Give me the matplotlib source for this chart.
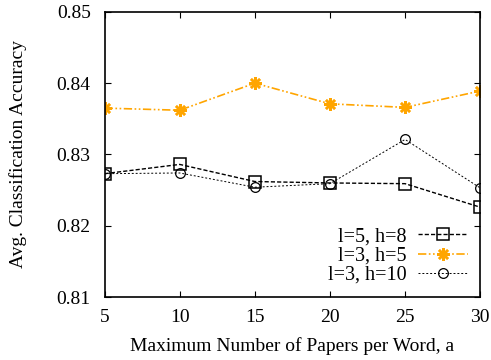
import matplotlib.pyplot as plt

plt.rcParams['font.family'] = ['Liberation Serif', 'DejaVu Serif']
plt.rcParams['font.size'] = 14

# data
papers = [5, 10, 15, 20, 25, 30]
acc_l5_h8 = [0.8273, 0.8286, 0.8262, 0.8260, 0.8259, 0.8226]
acc_l3_h5 = [0.8365, 0.8362, 0.8400, 0.8371, 0.8366, 0.8389]
acc_l3_h10 = [0.8273, 0.8274, 0.8254, 0.8259, 0.8321, 0.8253]
labels = ['l=5, h=8', 'l=3, h=5', 'l=3, h=10']

fig = plt.figure(figsize=(4.91, 3.6), dpi=100)
ax = fig.add_axes([0.213, 0.175, 0.765, 0.792])

ax.plot(papers, acc_l5_h8, color='black', linestyle=(0, (3, 1.5)), linewidth=1,
        marker='s', markersize=8, markerfacecolor='none', markeredgewidth=1.1, label=labels[0])
ax.plot(papers, acc_l3_h5, color='orange', linestyle=(0, (5, 1.5, 1, 1.5, 1, 1.5)), linewidth=1.2,
        marker=(8, 2, 0), markersize=9, markeredgewidth=1.8, label=labels[1])
ax.plot(papers, acc_l3_h10, color='black', linestyle=(0, (2, 2)), linewidth=0.7,
        marker='o', markersize=7, markerfacecolor='none', markeredgewidth=0.9, label=labels[2])

ax.set_xlim(5, 30)
ax.set_ylim(0.81, 0.85)
ax.set_xticks(papers)
ax.set_yticks([0.81, 0.82, 0.83, 0.84, 0.85])
ax.tick_params(direction='in', top=True, right=True, length=4, labelsize=14)
ax.tick_params(axis='x', pad=9)
ax.tick_params(axis='y', pad=10)
for s in ax.spines.values():
    s.set_linewidth(1.2)

ax.set_xlabel('Maximum Number of Papers per Word, a', labelpad=7.5)
ax.set_ylabel('Avg. Classification Accuracy', labelpad=21)

ax.legend(loc='lower right', markerfirst=False, frameon=False, fontsize=14.5,
          handlelength=2.5, handletextpad=0.55, labelspacing=0.0, borderpad=0,
          bbox_to_anchor=(0.968, 0.043), borderaxespad=0)

fig.savefig('out.png', dpi=100)
